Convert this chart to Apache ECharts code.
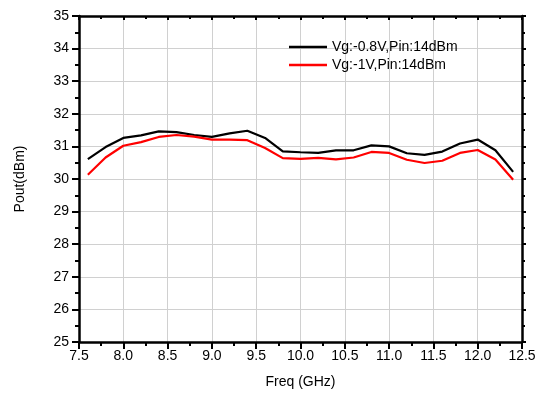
<!DOCTYPE html>
<html lang="en">
<head>
    <meta charset="UTF-8">
    <title>Pout vs Freq</title>
    <script type="text/javascript" src="https://cdn.jsdelivr.net/npm/echarts@6/dist/echarts.min.js"></script>
    <style>
        html, body { margin: 0; padding: 0; background: #fff; }
        #chart { width: 543px; height: 399px; }
    </style>
</head>
<body>
<div id="chart"></div>
<script>
    // 频点 (GHz)
    var freq = [7.6, 7.8, 8.0, 8.2, 8.4, 8.6, 8.8, 9.0, 9.2, 9.4, 9.6, 9.8, 10.0,
        10.2, 10.4, 10.6, 10.8, 11.0, 11.2, 11.4, 11.6, 11.8, 12.0, 12.2, 12.4];
    // Vg:-0.8V
    var pout08 = [30.61, 30.98, 31.26, 31.34, 31.46, 31.44, 31.35, 31.29, 31.40, 31.48, 31.26, 30.85, 30.82,
        30.80, 30.88, 30.88, 31.03, 31.00, 30.79, 30.74, 30.84, 31.09, 31.21, 30.88, 30.22];
    // Vg:-1V
    var pout10 = [30.13, 30.66, 31.02, 31.13, 31.29, 31.35, 31.30, 31.21, 31.21, 31.19, 30.95, 30.64, 30.62,
        30.65, 30.60, 30.66, 30.83, 30.80, 30.59, 30.49, 30.56, 30.80, 30.89, 30.60, 29.98];
    var seriesNames = ['Vg:-0.8V,Pin:14dBm', 'Vg:-1V,Pin:14dBm'];

    function pairs(ys) {
        var out = [];
        for (var i = 0; i < freq.length; i++) {
            out.push([freq[i], ys[i]]);
        }
        return out;
    }

    var font = 'Arial, "Liberation Sans", sans-serif';
    var chart = echarts.init(document.getElementById('chart'));

    var option = {
        animation: false,
        grid: {left: 79, right: 21, top: 16, bottom: 57},
        legend: {
            left: 284,
            top: 35,
            orient: 'vertical',
            icon: 'rect',
            itemWidth: 38,
            itemHeight: 2.5,
            itemGap: 4,
            textStyle: {fontFamily: font, fontSize: 14, color: '#000'},
            data: seriesNames
        },
        xAxis: [{
            type: 'value',
            min: 7.5, max: 12.5, interval: 0.5,
            name: 'Freq (GHz)',
            nameLocation: 'middle',
            nameGap: 33,
            nameTextStyle: {fontFamily: font, fontSize: 14, color: '#000'},
            axisLine: {lineStyle: {color: '#000', width: 2.5}},
            axisTick: {length: 7, lineStyle: {color: '#000', width: 2}},
            minorTick: {show: true, splitNumber: 2, length: 4, lineStyle: {color: '#000', width: 2}},
            splitLine: {show: true, lineStyle: {color: '#d0d0d0', width: 1}},
            axisLabel: {
                margin: 7, fontFamily: font, fontSize: 14, color: '#000',
                formatter: function (v) { return v.toFixed(1); }
            }
        }, {
            type: 'value',
            position: 'top',
            min: 7.5, max: 12.5, interval: 0.5,
            axisLine: {lineStyle: {color: '#000', width: 2.5}},
            axisTick: {inside: true, length: 4, lineStyle: {color: '#000', width: 2}},
            minorTick: {show: true, splitNumber: 2, length: 3, lineStyle: {color: '#000', width: 2}},
            splitLine: {show: false},
            axisLabel: {show: false}
        }],
        yAxis: [{
            type: 'value',
            min: 25, max: 35, interval: 1,
            name: 'Pout(dBm)',
            nameLocation: 'middle',
            nameGap: 52,
            nameTextStyle: {fontFamily: font, fontSize: 14, color: '#000'},
            axisLine: {show: true, lineStyle: {color: '#000', width: 2.5}},
            axisTick: {show: true, length: 7, lineStyle: {color: '#000', width: 2}},
            minorTick: {show: true, splitNumber: 2, length: 4, lineStyle: {color: '#000', width: 2}},
            splitLine: {show: true, lineStyle: {color: '#d0d0d0', width: 1}},
            axisLabel: {margin: 10, fontFamily: font, fontSize: 14, color: '#000'}
        }, {
            type: 'value',
            position: 'right',
            min: 25, max: 35, interval: 1,
            axisLine: {show: true, lineStyle: {color: '#000', width: 2.5}},
            axisTick: {show: true, length: 4, lineStyle: {color: '#000', width: 2}},
            minorTick: {show: true, splitNumber: 2, length: 3, lineStyle: {color: '#000', width: 2}},
            splitLine: {show: false},
            axisLabel: {show: false}
        }],
        series: [{
            name: seriesNames[0],
            type: 'line',
            symbol: 'none',
            lineStyle: {color: '#000', width: 2.2},
            itemStyle: {color: '#000'},
            data: pairs(pout08)
        }, {
            name: seriesNames[1],
            type: 'line',
            symbol: 'none',
            lineStyle: {color: '#ff0000', width: 2.2},
            itemStyle: {color: '#ff0000'},
            data: pairs(pout10)
        }]
    };

    chart.setOption(option);
</script>
</body>
</html>
